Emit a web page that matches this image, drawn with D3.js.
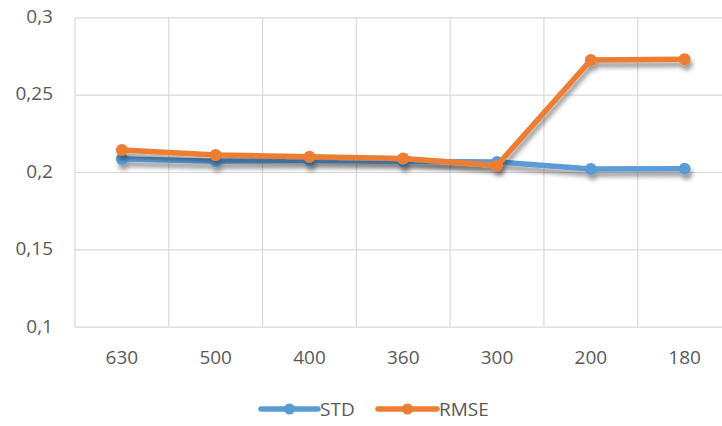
<!DOCTYPE html>
<html>
<head>
<meta charset="utf-8">
<script src="https://cdn.jsdelivr.net/npm/d3@7/dist/d3.min.js"></script>
<style>
  html, body { margin: 0; padding: 0; background: #fff; }
  svg { display: block; }
  text { font-family: "Open Sans", "Liberation Sans", sans-serif; fill: #595959; }
</style>
</head>
<body>
<svg id="chart" width="722" height="426"></svg>
<script>
// Sample sizes along the x axis
const categories = ["630", "500", "400", "360", "300", "200", "180"];
// Series values
const stdValues  = [0.2084, 0.2070, 0.2075, 0.2070, 0.2065, 0.2020, 0.2021];
const rmseValues = [0.2142, 0.2110, 0.2099, 0.2088, 0.2042, 0.2724, 0.2729];
const seriesNames = ["STD", "RMSE"];
const seriesColors = ["#5b9bd5", "#ed7d31"];
// Y tick labels (decimal comma)
const yTicks = [0.1, 0.15, 0.2, 0.25, 0.3];
const yTickLabels = ["0,1", "0,15", "0,2", "0,25", "0,3"];

const svg = d3.select("#chart");
const margin = { left: 75, top: 17.3, right: -9.5, bottom: 99.3 };
const W = 722, H = 426;
const fontSize = "19px";

const x = d3.scaleBand().domain(categories)
  .range([margin.left, W - margin.right]).padding(0);
const y = d3.scaleLinear().domain([0.1, 0.3])
  .range([H - margin.bottom, margin.top]);

const defs = svg.append("defs");
const f = defs.append("filter").attr("id", "shadow")
  .attr("x", "-20%").attr("y", "-50%").attr("width", "140%").attr("height", "200%");
f.append("feDropShadow").attr("dx", 2).attr("dy", 5).attr("stdDeviation", 2.2)
  .attr("flood-color", "#000").attr("flood-opacity", 0.38);

// Horizontal gridlines and y labels
const yAxis = d3.axisLeft(y).tickValues(yTicks)
  .tickFormat((d, i) => yTickLabels[i])
  .tickSize(-(W - margin.right - margin.left)).tickPadding(22);
const gy = svg.append("g").attr("transform", `translate(${margin.left},0)`).call(yAxis);
gy.select(".domain").remove();
gy.selectAll(".tick line").attr("stroke", "#d9d9d9").attr("stroke-width", 1.2);
gy.selectAll(".tick text").style("font-size", fontSize).attr("fill", "#595959").attr("dy", "0.28em");

// Vertical gridlines at category boundaries
const bounds = categories.map(c => x(c));
svg.append("g").selectAll("line").data(bounds).join("line")
  .attr("x1", d => d).attr("x2", d => d)
  .attr("y1", y(0.3)).attr("y2", y(0.1))
  .attr("stroke", "#d9d9d9").attr("stroke-width", 1.2);

// X labels
const xAxis = d3.axisBottom(x).tickSize(0).tickPadding(24);
const gx = svg.append("g").attr("transform", `translate(0,${y(0.1)})`).call(xAxis);
gx.select(".domain").remove();
gx.selectAll(".tick text").style("font-size", fontSize).attr("fill", "#595959");

// Lines with markers
const cx = c => x(c) + x.bandwidth() / 2;
const line = d3.line().x((d, i) => cx(categories[i])).y(d => y(d));
const series = [stdValues, rmseValues];
series.forEach((vals, s) => {
  const g = svg.append("g").attr("filter", "url(#shadow)");
  g.append("path").datum(vals).attr("d", line)
    .attr("fill", "none").attr("stroke", seriesColors[s])
    .attr("stroke-width", 5.5).attr("stroke-linejoin", "round").attr("stroke-linecap", "round");
  g.selectAll("circle").data(vals).join("circle")
    .attr("cx", (d, i) => cx(categories[i])).attr("cy", d => y(d))
    .attr("r", 6).attr("fill", seriesColors[s]);
});

// Legend
const legendItems = [{ x1: 261, x2: 318, tx: 320 }, { x1: 378, x2: 437, tx: 439 }];
const ly = 409;
legendItems.forEach((it, s) => {
  const g = svg.append("g");
  g.append("line").attr("x1", it.x1).attr("x2", it.x2).attr("y1", ly).attr("y2", ly)
    .attr("stroke", seriesColors[s]).attr("stroke-width", 5.5).attr("stroke-linecap", "round");
  g.append("circle").attr("cx", (it.x1 + it.x2) / 2).attr("cy", ly).attr("r", 5.5)
    .attr("fill", seriesColors[s]);
  g.append("text").attr("x", it.tx).attr("y", ly).attr("dy", "0.36em")
    .style("font-size", fontSize).text(seriesNames[s]);
});
</script>
</body>
</html>
